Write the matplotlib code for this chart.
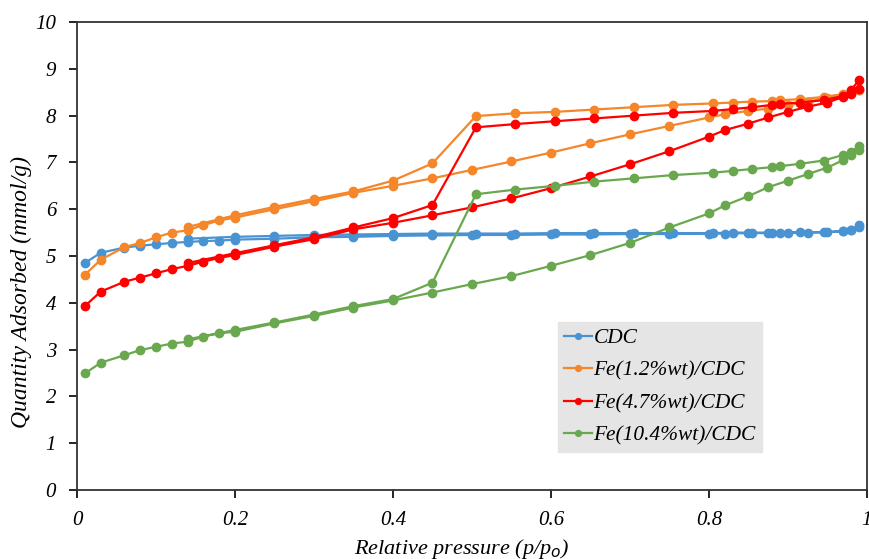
import matplotlib
matplotlib.use("Agg")
import matplotlib.pyplot as plt

plt.rcParams['font.family'] = ['Liberation Serif', 'DejaVu Serif']
plt.rcParams['font.style'] = 'italic'

# adsorption branch (increasing p/po)
ads_p = [0.01, 0.03, 0.06, 0.08, 0.10, 0.12, 0.14, 0.16, 0.18, 0.20, 0.25, 0.30,
         0.35, 0.40, 0.45, 0.50, 0.55, 0.60, 0.65, 0.70, 0.75, 0.80, 0.82, 0.85,
         0.875, 0.90, 0.925, 0.95, 0.97, 0.98, 0.99]
# desorption branch (decreasing p/po)
des_p = [0.99, 0.98, 0.97, 0.945, 0.915, 0.89, 0.88, 0.855, 0.83, 0.805, 0.755,
         0.705, 0.655, 0.605, 0.555, 0.505, 0.45, 0.40, 0.35, 0.30, 0.25, 0.20, 0.14]

cdc_ads = [4.85, 5.07, 5.18, 5.22, 5.25, 5.28, 5.30, 5.32, 5.33, 5.35, 5.37, 5.40,
           5.41, 5.43, 5.44, 5.45, 5.45, 5.46, 5.46, 5.47, 5.47, 5.48, 5.48, 5.49,
           5.49, 5.50, 5.50, 5.51, 5.53, 5.55, 5.66]
cdc_des = [5.62, 5.56, 5.53, 5.51, 5.51, 5.50, 5.50, 5.50, 5.50, 5.49, 5.49,
           5.49, 5.49, 5.49, 5.48, 5.48, 5.48, 5.47, 5.46, 5.45, 5.43, 5.41, 5.37]

fe12_ads = [4.60, 4.92, 5.19, 5.28, 5.40, 5.50, 5.55, 5.66, 5.76, 5.82, 6.00, 6.17,
            6.35, 6.50, 6.66, 6.84, 7.02, 7.21, 7.41, 7.60, 7.78, 7.96, 8.03, 8.10,
            8.15, 8.22, 8.30, 8.38, 8.45, 8.50, 8.55]
fe12_des = [8.55, 8.50, 8.46, 8.40, 8.35, 8.33, 8.31, 8.30, 8.28, 8.26, 8.23,
            8.18, 8.13, 8.08, 8.05, 7.99, 6.98, 6.61, 6.38, 6.22, 6.05, 5.87, 5.62]

fe47_ads = [3.93, 4.24, 4.45, 4.54, 4.63, 4.72, 4.79, 4.88, 4.96, 5.02, 5.20, 5.36,
            5.57, 5.71, 5.87, 6.04, 6.23, 6.45, 6.70, 6.96, 7.24, 7.55, 7.69, 7.83,
            7.96, 8.08, 8.19, 8.28, 8.40, 8.47, 8.57]
fe47_des = [8.76, 8.55, 8.42, 8.33, 8.28, 8.25, 8.23, 8.18, 8.14, 8.10, 8.06,
            8.00, 7.94, 7.88, 7.82, 7.75, 6.09, 5.81, 5.61, 5.40, 5.23, 5.06, 4.85]

fe104_ads = [2.49, 2.72, 2.88, 2.99, 3.06, 3.13, 3.17, 3.28, 3.35, 3.38, 3.56, 3.72,
             3.90, 4.05, 4.22, 4.40, 4.57, 4.79, 5.02, 5.28, 5.61, 5.91, 6.08, 6.28,
             6.47, 6.61, 6.75, 6.89, 7.05, 7.15, 7.26]
fe104_des = [7.36, 7.22, 7.16, 7.04, 6.97, 6.92, 6.90, 6.86, 6.82, 6.78, 6.73,
             6.66, 6.59, 6.50, 6.42, 6.32, 4.43, 4.08, 3.93, 3.75, 3.58, 3.42, 3.22]

labels = ['CDC', 'Fe(1.2%wt)/CDC', 'Fe(4.7%wt)/CDC', 'Fe(10.4%wt)/CDC']
colors = ['#4a93d3', '#f5862a', '#ff0000', '#6aa84f']
series = [(cdc_ads, cdc_des), (fe12_ads, fe12_des),
          (fe47_ads, fe47_des), (fe104_ads, fe104_des)]

fig = plt.figure(figsize=(8.7, 5.59), dpi=100)
ax = fig.add_axes([0.0885, 0.1234, 0.908, 0.8372])

for (a, d), lab, c in zip(series, labels, colors):
    ax.plot(ads_p + des_p, a + d, '-o', color=c, lw=1.6, ms=6, label=lab)

ax.set_xlim(0, 1)
ax.set_ylim(0, 10)
ax.set_xticks([0, 0.2, 0.4, 0.6, 0.8, 1])
ax.set_xticklabels(['0', '0.2', '0.4', '0.6', '0.8', '1'])
ax.set_yticks(range(0, 11))
ax.tick_params(direction='out', length=6, width=1.2, labelsize=15)
ax.tick_params(axis='x', pad=9)
ax.tick_params(axis='y', pad=9)
for s in ax.spines.values():
    s.set_linewidth(1.3)
    s.set_color('#333333')

ax.set_xlabel('Relative pressure (p/p$_o$)', fontsize=16)
ax.set_ylabel('Quantity Adsorbed (mmol/g)', fontsize=17)
ax.xaxis.set_label_coords(0.487, -0.100)
ax.yaxis.set_label_coords(-0.057, 0.423)

leg = ax.legend(loc='upper left', bbox_to_anchor=(0.609, 0.359), fontsize=15.4,
                handlelength=1.3, handletextpad=0.05, borderpad=0.3,
                borderaxespad=0, labelspacing=0.58, markerscale=0.7,
                frameon=True, fancybox=False)
leg.get_frame().set_facecolor('#e5e5e5')
leg.get_frame().set_edgecolor('#e5e5e5')
leg.get_frame().set_alpha(1)

fig.savefig('out.png', dpi=100)
